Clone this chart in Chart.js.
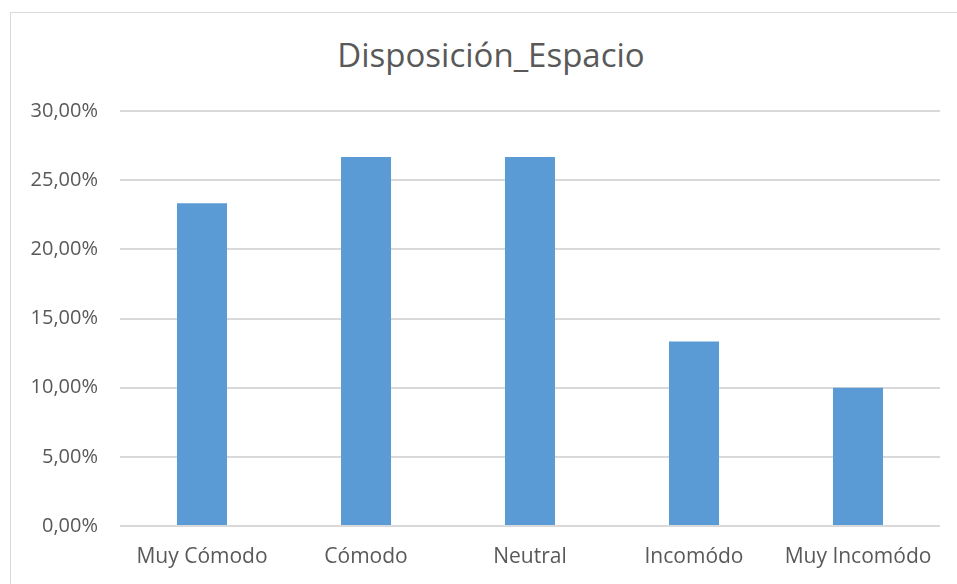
<!DOCTYPE html>
<html>
<head>
<meta charset="utf-8">
<script src="https://cdn.jsdelivr.net/npm/chart.js@4/dist/chart.umd.min.js"></script>
<style>
  html, body { margin: 0; padding: 0; background: #fff; }
  #wrap { position: relative; width: 957px; height: 584px; overflow: hidden; }
  #frame {
    position: absolute; left: 10px; top: 12px; width: 1000px; height: 600px;
    border-left: 1px solid #d9d9d9; border-top: 1px solid #d9d9d9;
  }
  /* title is centred on the full chart box, which runs past the right edge */
  #title {
    position: absolute; left: 41px; width: 900px; top: 35px; height: 40px;
    line-height: 40px; text-align: center;
    font-family: "Open Sans", "Liberation Sans", sans-serif; font-size: 33px;
    color: #595959; margin: 0; font-weight: normal;
  }
  canvas { position: absolute; left: 0; top: 0; }
</style>
</head>
<body>
<div id="wrap">
  <div id="frame"></div>
  <h1 id="title">Disposición_Espacio</h1>
  <canvas id="espacio" width="957" height="584"></canvas>
</div>
<script>
const categories = ['Muy Cómodo', 'Cómodo', 'Neutral', 'Incomódo', 'Muy Incomódo'];
const percentages = [23.33, 26.67, 26.67, 13.33, 10.00];
const yTicks = [0, 5, 10, 15, 20, 25, 30];

const textColor = '#595959';
const gridColor = '#d9d9d9';
const barColor = '#5b9bd5';
const fontFamily = '"Open Sans", "Liberation Sans", sans-serif';

new Chart(document.getElementById('espacio'), {
    type: 'bar',
    data: {
        labels: categories,
        datasets: [{
            label: 'Disposición_Espacio',
            data: percentages,
            backgroundColor: barColor,
            borderWidth: 0,
            categoryPercentage: 1,
            barPercentage: 0.305
        }]
    },
    options: {
        responsive: false,
        animation: false,
        layout: { padding: { left: 10, right: 17, top: 111, bottom: 8 } },
        scales: {
            x: {
                grid: { display: false },
                border: { display: false },
                ticks: {
                    color: textColor,
                    font: { family: fontFamily, size: 21 },
                    padding: 10,
                    maxRotation: 0
                },
                afterFit: s => { s.height = 50; }
            },
            y: {
                min: 0,
                max: 30,
                afterBuildTicks: s => { s.ticks = yTicks.map(v => ({ value: v })); },
                grid: { color: gridColor, lineWidth: 2, drawTicks: false },
                border: { display: false },
                ticks: {
                    color: textColor,
                    font: { family: fontFamily, size: 20 },
                    padding: 22,
                    callback: v => v.toFixed(2).replace('.', ',') + '%'
                },
                afterFit: s => { s.width = 110; }
            }
        },
        plugins: {
            legend: { display: false },
            tooltip: { enabled: false },
            title: { display: false }
        }
    }
});
</script>
</body>
</html>
